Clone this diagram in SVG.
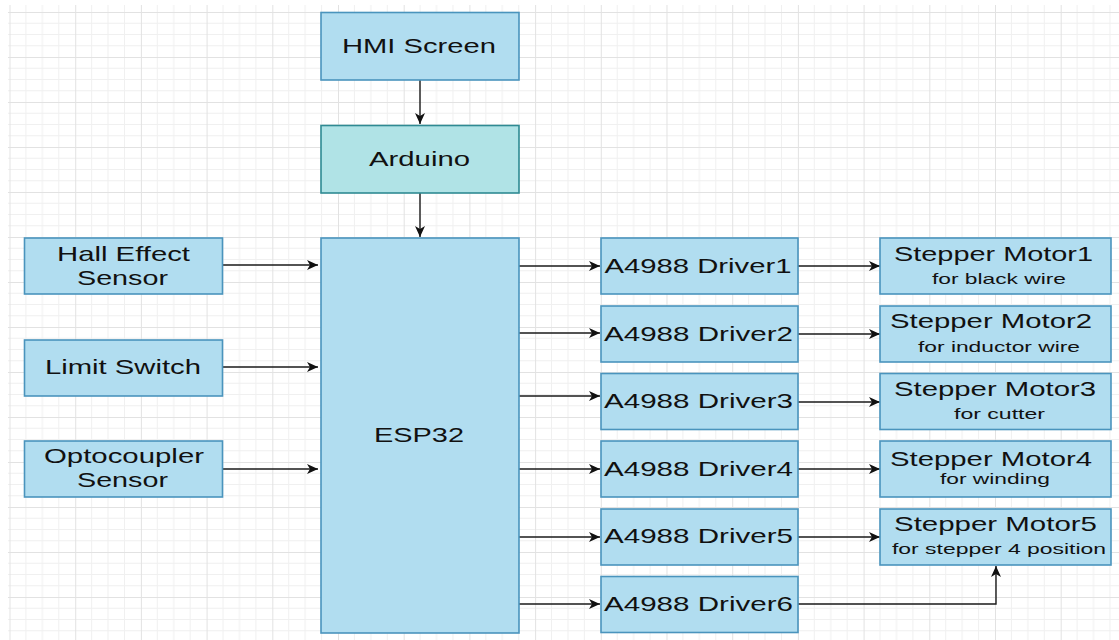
<svg xmlns="http://www.w3.org/2000/svg" width="1119" height="640" viewBox="0 0 1119 640">
<style>
.bx{fill:#b1ddf0;stroke:#4a94bd;stroke-width:1.6}
.ar{fill:#b0e3e6;stroke:#2f8a93;stroke-width:1.6}
.t{font-family:"Liberation Sans",Arial,sans-serif;font-size:21px;fill:#111;text-anchor:middle}
.s{font-family:"Liberation Sans",Arial,sans-serif;font-size:15px;fill:#111;text-anchor:middle}
.c{fill:none;stroke:#1a1a1a;stroke-width:1.4;marker-end:url(#ah)}
</style>
<defs>
<pattern id="grid" patternUnits="userSpaceOnUse" x="9.5" y="12" width="65.7" height="45">
<path d="M16.4 0V45M32.85 0V45M49.3 0V45M0 11.25H65.7M0 22.5H65.7M0 33.75H65.7" stroke="#f0f0f0" stroke-width="1" fill="none"/>
<path d="M0.5 0V45M0 0.5H65.7" stroke="#e2e2e2" stroke-width="1" fill="none"/>
</pattern>
<marker id="ah" markerUnits="userSpaceOnUse" markerWidth="12" markerHeight="10" refX="11" refY="5" orient="auto">
<path d="M0,0 L11,5 L0,10 L3,5 Z" fill="#111"/>
</marker>
</defs>
<rect width="1119" height="640" fill="#ffffff"/>
<rect x="8" y="5" width="1111" height="635" fill="url(#grid)"/>

<g id="connectors">
<path class="c" d="M420 80V124"/>
<path class="c" d="M420 193V237"/>
<path class="c" d="M223 265H318"/>
<path class="c" d="M223 367H318"/>
<path class="c" d="M223 469H318"/>
<path class="c" d="M519 266H600"/>
<path class="c" d="M519 333H600"/>
<path class="c" d="M519 396H600"/>
<path class="c" d="M519 469H600"/>
<path class="c" d="M519 537H600"/>
<path class="c" d="M519 604H600"/>
<path class="c" d="M798 266H880"/>
<path class="c" d="M798 334H880"/>
<path class="c" d="M798 402H880"/>
<path class="c" d="M798 469H880"/>
<path class="c" d="M798 537H880"/>
<path class="c" d="M798 604H996V566"/>
</g>

<g id="hmi"><rect class="bx" x="321" y="12.5" width="198" height="67.5"/><text class="t" x="419" y="53" textLength="154" lengthAdjust="spacingAndGlyphs">HMI Screen</text></g>
<g id="arduino"><rect class="ar" x="321" y="125.5" width="198" height="67.5"/><text class="t" x="419.5" y="166" textLength="101" lengthAdjust="spacingAndGlyphs">Arduino</text></g>
<g id="esp32"><rect class="bx" x="321" y="238" width="198" height="395"/><text class="t" x="419" y="442" textLength="90" lengthAdjust="spacingAndGlyphs">ESP32</text></g>

<g id="hall"><rect class="bx" x="24.5" y="238" width="198" height="56"/><text class="t" x="123.5" y="261" textLength="133" lengthAdjust="spacingAndGlyphs">Hall Effect</text><text class="t" x="122.5" y="285" textLength="91" lengthAdjust="spacingAndGlyphs">Sensor</text></g>
<g id="limit"><rect class="bx" x="24.5" y="340" width="198" height="56"/><text class="t" x="123" y="374" textLength="156" lengthAdjust="spacingAndGlyphs">Limit Switch</text></g>
<g id="opto"><rect class="bx" x="24.5" y="441" width="198" height="56"/><text class="t" x="124" y="463" textLength="160" lengthAdjust="spacingAndGlyphs">Optocoupler</text><text class="t" x="122.5" y="487" textLength="91" lengthAdjust="spacingAndGlyphs">Sensor</text></g>

<g id="driver1"><rect class="bx" x="601" y="238" width="197" height="56"/><text class="t" x="698" y="273" textLength="187" lengthAdjust="spacingAndGlyphs">A4988 Driver1</text></g>
<g id="driver2"><rect class="bx" x="601" y="306" width="197" height="56"/><text class="t" x="698.5" y="340.5" textLength="189" lengthAdjust="spacingAndGlyphs">A4988 Driver2</text></g>
<g id="driver3"><rect class="bx" x="601" y="373.5" width="197" height="56"/><text class="t" x="698.5" y="408" textLength="189" lengthAdjust="spacingAndGlyphs">A4988 Driver3</text></g>
<g id="driver4"><rect class="bx" x="601" y="441" width="197" height="56"/><text class="t" x="698.5" y="475.5" textLength="189" lengthAdjust="spacingAndGlyphs">A4988 Driver4</text></g>
<g id="driver5"><rect class="bx" x="601" y="509" width="197" height="56"/><text class="t" x="698.5" y="543" textLength="189" lengthAdjust="spacingAndGlyphs">A4988 Driver5</text></g>
<g id="driver6"><rect class="bx" x="601" y="576.5" width="197" height="56"/><text class="t" x="698.5" y="610.5" textLength="189" lengthAdjust="spacingAndGlyphs">A4988 Driver6</text></g>

<g id="motor1"><rect class="bx" x="880" y="238" width="231" height="56"/><text class="t" x="993.5" y="261" textLength="199" lengthAdjust="spacingAndGlyphs">Stepper Motor1</text><text class="s" x="999" y="284" textLength="134" lengthAdjust="spacingAndGlyphs">for black wire</text></g>
<g id="motor2"><rect class="bx" x="880" y="306" width="231" height="56"/><text class="t" x="991" y="328" textLength="202" lengthAdjust="spacingAndGlyphs">Stepper Motor2</text><text class="s" x="999" y="352" textLength="162" lengthAdjust="spacingAndGlyphs">for inductor wire</text></g>
<g id="motor3"><rect class="bx" x="880" y="373.5" width="231" height="56"/><text class="t" x="995" y="396" textLength="202" lengthAdjust="spacingAndGlyphs">Stepper Motor3</text><text class="s" x="999.5" y="419" textLength="91" lengthAdjust="spacingAndGlyphs">for cutter</text></g>
<g id="motor4"><rect class="bx" x="880" y="441" width="231" height="56"/><text class="t" x="991" y="466" textLength="202" lengthAdjust="spacingAndGlyphs">Stepper Motor4</text><text class="s" x="995" y="484" textLength="110" lengthAdjust="spacingAndGlyphs">for winding</text></g>
<g id="motor5"><rect class="bx" x="880" y="509" width="231" height="56"/><text class="t" x="995.5" y="531" textLength="203" lengthAdjust="spacingAndGlyphs">Stepper Motor5</text><text class="s" x="999" y="554" textLength="214" lengthAdjust="spacingAndGlyphs">for stepper 4 position</text></g>
</svg>
